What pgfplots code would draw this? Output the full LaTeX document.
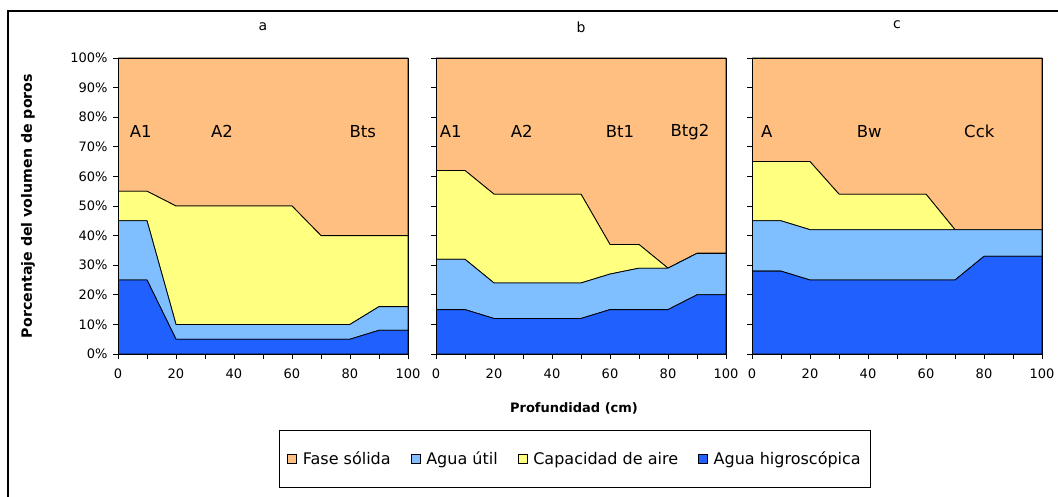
\documentclass[border=0pt]{standalone}
\usepackage{fontspec}
\setmainfont{DejaVu Sans}
\usepackage{pgfplots}
\usepackage{pgfplotstable}
\pgfplotsset{compat=1.18}
\definecolor{solida}{HTML}{FFBF80}
\definecolor{util}{HTML}{80BFFF}
\definecolor{aire}{HTML}{FFFF80}
\definecolor{higro}{HTML}{2060FF}

\pgfplotstableread{
x hig util aire sol
0 25 20 10 45
10 25 20 10 45
20 5 5 40 50
30 5 5 40 50
40 5 5 40 50
50 5 5 40 50
60 5 5 40 50
70 5 5 30 60
80 5 5 30 60
90 8 8 24 60
100 8 8 24 60
}\tabA
\pgfplotstableread{
x hig util aire sol
0 15 17 30 38
10 15 17 30 38
20 12 12 30 46
30 12 12 30 46
40 12 12 30 46
50 12 12 30 46
60 15 12 10 63
70 15 14 8 63
80 15 14 0 71
90 20 14 0 66
100 20 14 0 66
}\tabB
\pgfplotstableread{
x hig util aire sol
0 28 17 20 35
10 28 17 20 35
20 25 17 23 35
30 25 17 12 46
40 25 17 12 46
50 25 17 12 46
60 25 17 12 46
70 25 17 0 58
80 33 9 0 58
90 33 9 0 58
100 33 9 0 58
}\tabC

\pgfplotsset{
  panel/.style={
    scale only axis, width=290pt, height=296pt,
    anchor=south west,
    xmin=0, xmax=100, ymin=0, ymax=100,
    xtick={0,20,...,100}, minor xtick={10,30,...,90},
    xticklabels={0,20,40,60,80,100},
    ytick={0,10,...,100},
    tick align=outside, tick pos=left,
    major tick length=5pt, minor tick length=5pt,
    axis line style={black, line width=0.8pt},
    every tick/.style={black, line width=0.8pt},
    ticklabel style={font=\fontsize{13}{15}\selectfont},
    xticklabel style={yshift=-6pt},
    yticklabel style={xshift=-2pt},
    stack plots=y,
    axis on top,
  },
  layer/.style={draw=black, line width=0.8pt, fill=#1, forget plot},
}
\tikzset{hz/.style={font=\fontsize{16.5}{19}\selectfont}}

\begin{document}
\begin{tikzpicture}
\path[use as bounding box] (0,0) rectangle (1058pt,496pt);
\draw[line width=2pt] (8pt,-2pt) -- (8pt,485pt) -- (1060pt,485pt);

% panel a
\begin{axis}[panel, at={(118pt,142pt)},
  yticklabels={0\%,10\%,20\%,30\%,40\%,50\%,60\%,70\%,80\%,90\%,100\%},
  legend image code/.code={\draw[#1,line width=0.6pt] (0pt,-4.5pt) rectangle (9pt,4.5pt);},
  legend style={at={(1.5759,-0.3547)}, anchor=center, legend columns=4,
    draw=black, line width=1pt, inner xsep=8pt, inner ysep=19.5pt,
    font=\fontsize{16}{19}\selectfont,
    /tikz/every odd column/.append style={column sep=4pt},
    /tikz/every even column/.append style={column sep=18pt}},
]
\addlegendimage{fill=solida, draw=black}
\addlegendentry{Fase sólida}
\addlegendimage{fill=util, draw=black}
\addlegendentry{Agua útil}
\addlegendimage{fill=aire, draw=black}
\addlegendentry{Capacidad de aire}
\addlegendimage{fill=higro, draw=black}
\addlegendentry{Agua higroscópica}
\addplot[layer=higro] table[x=x,y=hig]{\tabA} \closedcycle;
\addplot[layer=util] table[x=x,y=util]{\tabA} \closedcycle;
\addplot[layer=aire] table[x=x,y=aire]{\tabA} \closedcycle;
\addplot[layer=solida] table[x=x,y=sol]{\tabA} \closedcycle;
\end{axis}

% panel b
\begin{axis}[panel, at={(436pt,142pt)}, yticklabels={}]
\addplot[layer=higro] table[x=x,y=hig]{\tabB} \closedcycle;
\addplot[layer=util] table[x=x,y=util]{\tabB} \closedcycle;
\addplot[layer=aire] table[x=x,y=aire]{\tabB} \closedcycle;
\addplot[layer=solida] table[x=x,y=sol]{\tabB} \closedcycle;
\end{axis}

% panel c
\begin{axis}[panel, at={(752pt,142pt)}, yticklabels={}]
\addplot[layer=higro] table[x=x,y=hig]{\tabC} \closedcycle;
\addplot[layer=util] table[x=x,y=util]{\tabC} \closedcycle;
\addplot[layer=aire] table[x=x,y=aire]{\tabC} \closedcycle;
\addplot[layer=solida] table[x=x,y=sol]{\tabC} \closedcycle;
\end{axis}

% horizon labels
\node[hz] at (140.7pt,364.3pt) {A1};
\node[hz] at (222pt,364.3pt) {A2};
\node[hz] at (362.7pt,364.3pt) {Bts};
\node[hz] at (450.7pt,364.3pt) {A1};
\node[hz] at (521.7pt,364.3pt) {A2};
\node[hz] at (620pt,364.3pt) {Bt1};
\node[hz] at (690pt,364.3pt) {Btg2};
\node[hz] at (766.7pt,364.3pt) {A};
\node[hz] at (869.3pt,364.3pt) {Bw};
\node[hz] at (979.3pt,364.3pt) {Cck};

\node[font=\fontsize{14}{16}\selectfont] at (263pt,469pt) {a};
\node[font=\fontsize{14}{16}\selectfont] at (581pt,469pt) {b};
\node[font=\fontsize{14}{16}\selectfont] at (897pt,471pt) {c};
\node[font=\bfseries\fontsize{14.2}{16}\selectfont, rotate=90] at (28pt,290pt) {Porcentaje del volumen de poros};
\node[font=\bfseries\fontsize{13}{15}\selectfont] at (574pt,88pt) {Profundidad (cm)};
\end{tikzpicture}
\end{document}
